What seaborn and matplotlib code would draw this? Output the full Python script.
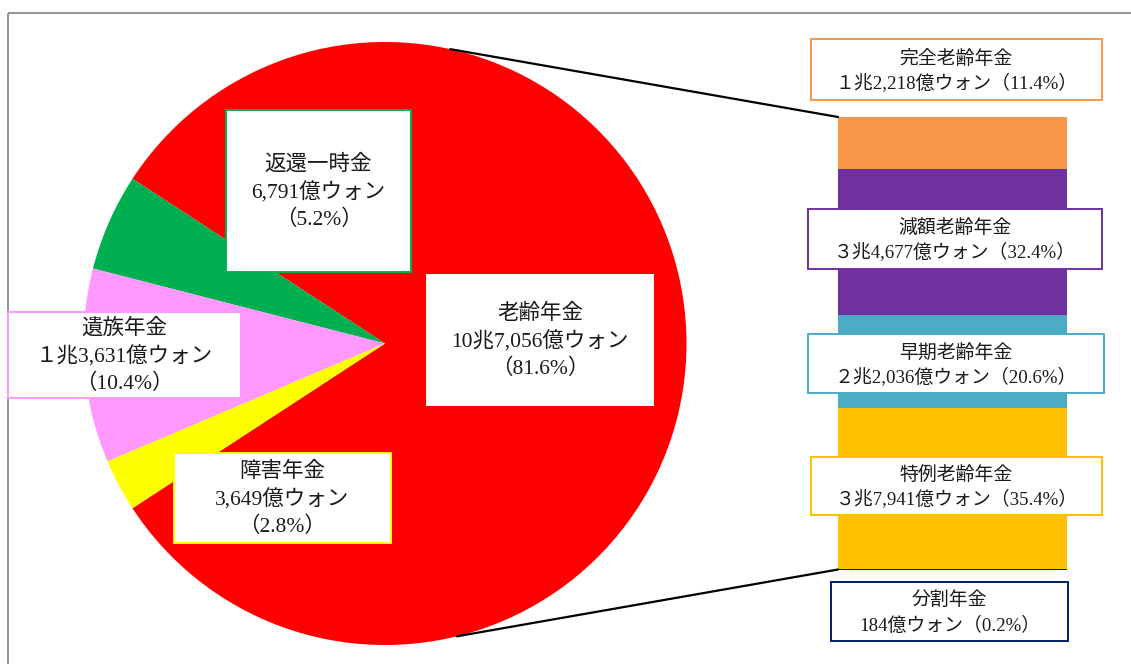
import matplotlib
matplotlib.use("Agg")
import matplotlib.pyplot as plt
from matplotlib.patches import Rectangle, ConnectionPatch
import numpy as np
import pandas as pd
import seaborn as sns

# Pension payouts by type (share of total, %)
pie_names = ["老齢年金", "返還一時金", "遺族年金", "障害年金"]
pie_amounts = ["10兆7,056億ウォン", "6,791億ウォン", "１兆3,631億ウォン", "3,649億ウォン"]
pie_shares = [81.6, 5.2, 10.4, 2.8]
pie_colors = ["#FF0000", "#00B050", "#FF99FF", "#FFFF00"]
pie_edges = ["#FFFFFF", "#00B050", "#FF99FF", "#FFFF00"]

# Breakdown of the old-age pension, stacked from the bottom up
bar_names = ["分割年金", "特例老齢年金", "早期老齢年金", "減額老齢年金", "完全老齢年金"]
bar_amounts = ["184億ウォン", "３兆7,941億ウォン", "２兆2,036億ウォン", "３兆4,677億ウォン", "１兆2,218億ウォン"]
bar_shares = [0.2, 35.4, 20.6, 32.4, 11.4]
bar_colors = ["#002060", "#FFC000", "#4BACC6", "#7030A0", "#F79646"]

sns.set_theme(style="white")
plt.rcParams["font.family"] = ["Liberation Serif", "Noto Sans CJK JP"]

W, H = 1131, 664
fig = plt.figure(figsize=(W / 100, H / 100), dpi=100)
fig.patch.set_facecolor("white")


def fig_rect(x0, y0, x1, y1):
    """Pixel box (top-left origin) -> figure fraction rect."""
    return [x0 / W, 1 - y1 / H, (x1 - x0) / W, (y1 - y0) / H]


# --- pie ---
ax_pie = fig.add_axes(fig_rect(83.5, 42, 686.5, 645))
start = 180 + (100 - pie_shares[0]) / 2 * 3.6
ax_pie.pie(pie_shares, colors=pie_colors, startangle=start, counterclock=True,
           radius=1.0, wedgeprops=dict(linewidth=0))
ax_pie.set_xlim(-1, 1)
ax_pie.set_ylim(-1, 1)
ax_pie.set_aspect("equal")
ax_pie.axis("off")

# --- stacked bar (overlapping cumulative bars) ---
ax_bar = fig.add_axes(fig_rect(838, 117, 1067, 569.5))
cum = np.cumsum(bar_shares)
df = pd.DataFrame({"grp": ["老齢年金"] * len(cum), "cum": cum, "name": bar_names})
for i in range(len(cum) - 1, -1, -1):
    sns.barplot(data=df.iloc[[i]], x="grp", y="cum", color=bar_colors[i],
                width=1.0, linewidth=0, errorbar=None, saturation=1, ax=ax_bar)
ax_bar.set_xlim(-0.5, 0.5)
ax_bar.set_ylim(0, cum[-1])
ax_bar.axis("off")

# --- connector lines from the pie to the bar ---
for ang, ytop in [(77.5, cum[-1]), (-76.2, 0)]:
    a = np.deg2rad(ang)
    con = ConnectionPatch(xyA=(np.cos(a), np.sin(a)), coordsA=ax_pie.transData,
                          xyB=(-0.5, ytop), coordsB=ax_bar.transData,
                          color="black", linewidth=1.6, zorder=5)
    fig.add_artist(con)

# --- annotation layer in pixel coordinates ---
ax_t = fig.add_axes([0, 0, 1, 1], zorder=10)
ax_t.set_xlim(0, W)
ax_t.set_ylim(H, 0)
ax_t.axis("off")
ax_t.patch.set_alpha(0)

# outer frame (left and top)
ax_t.plot([8, 8], [13, H], color="#808080", lw=1.2, solid_capstyle="butt")
ax_t.plot([8, W], [13, 13], color="#808080", lw=1.2, solid_capstyle="butt")

text_color = "#1a1a1a"


def label_box(box, lines, edge, size, spacing):
    x0, y0, x1, y1 = box
    ax_t.add_patch(Rectangle((x0, y0), x1 - x0, y1 - y0, facecolor="white",
                             edgecolor=edge, linewidth=1.4, zorder=2))
    cx = (x0 + x1) / 2
    cy = (y0 + y1) / 2 + 1.5
    n = len(lines)
    for k, line in enumerate(lines):
        yy = cy + (k - (n - 1) / 2) * spacing
        ax_t.text(cx, yy, line, ha="center", va="center", fontsize=size,
                  color=text_color, zorder=3)


pie_boxes = [(427, 275, 653, 405), (226, 110, 411, 272),
             (8, 312, 241, 398), (174, 453, 391, 543)]
for name, amt, s, edge, box in zip(pie_names, pie_amounts, pie_shares, pie_edges, pie_boxes):
    label_box(box, [name, amt, f"（{s:.1f}%）"], edge, 15.5, 27.5)

bar_boxes = [(831, 582, 1068, 641), (811, 457, 1102, 515), (808, 334, 1104, 393),
             (808, 209, 1102, 269), (811, 39, 1102, 100)]
for name, amt, s, col, box in zip(bar_names, bar_amounts, bar_shares, bar_colors, bar_boxes):
    label_box(box, [name, f"{amt}（{s:.1f}%）"], col, 13.6, 25)

fig.savefig("out.png", dpi=100, facecolor="white")
